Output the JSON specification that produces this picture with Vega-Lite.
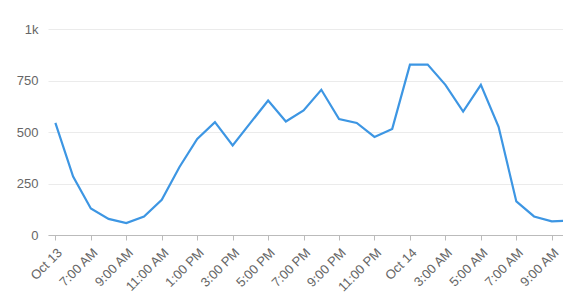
{
  "$schema": "https://vega.github.io/schema/vega-lite/v6.json",
  "width": 515,
  "height": 206,
  "autosize": "none",
  "padding": {"left": 48, "top": 29, "right": 0, "bottom": 66},
  "background": "white",
  "config": {
    "view": {"stroke": null},
    "font": "Liberation Sans",
    "axis": {"labelFont": "Liberation Sans", "labelFontSize": 13, "labelColor": "#666666"}
  },
  "data": {
    "values": [
      {"time": "2023-10-13T05:00:00Z", "value": 544},
      {"time": "2023-10-13T06:00:00Z", "value": 284},
      {"time": "2023-10-13T07:00:00Z", "value": 129},
      {"time": "2023-10-13T08:00:00Z", "value": 78},
      {"time": "2023-10-13T09:00:00Z", "value": 58},
      {"time": "2023-10-13T10:00:00Z", "value": 90},
      {"time": "2023-10-13T11:00:00Z", "value": 171},
      {"time": "2023-10-13T12:00:00Z", "value": 330},
      {"time": "2023-10-13T13:00:00Z", "value": 466},
      {"time": "2023-10-13T14:00:00Z", "value": 548},
      {"time": "2023-10-13T15:00:00Z", "value": 435},
      {"time": "2023-10-13T16:00:00Z", "value": 544},
      {"time": "2023-10-13T17:00:00Z", "value": 653},
      {"time": "2023-10-13T18:00:00Z", "value": 551},
      {"time": "2023-10-13T19:00:00Z", "value": 605},
      {"time": "2023-10-13T20:00:00Z", "value": 705},
      {"time": "2023-10-13T21:00:00Z", "value": 563},
      {"time": "2023-10-13T22:00:00Z", "value": 544},
      {"time": "2023-10-13T23:00:00Z", "value": 476},
      {"time": "2023-10-14T00:00:00Z", "value": 515},
      {"time": "2023-10-14T01:00:00Z", "value": 827},
      {"time": "2023-10-14T02:00:00Z", "value": 827},
      {"time": "2023-10-14T03:00:00Z", "value": 729},
      {"time": "2023-10-14T04:00:00Z", "value": 599},
      {"time": "2023-10-14T05:00:00Z", "value": 729},
      {"time": "2023-10-14T06:00:00Z", "value": 525},
      {"time": "2023-10-14T07:00:00Z", "value": 163},
      {"time": "2023-10-14T08:00:00Z", "value": 90},
      {"time": "2023-10-14T09:00:00Z", "value": 66},
      {"time": "2023-10-14T10:00:00Z", "value": 70}
    ]
  },
  "mark": {"type": "line", "color": "#3d96e3", "strokeWidth": 2.2, "clip": true},
  "encoding": {
    "x": {
      "field": "time",
      "type": "temporal",
      "title": null,
      "scale": {
        "type": "utc",
        "domain": [
          {"year": 2023, "month": 10, "date": 13, "hours": 4, "minutes": 35, "utc": true},
          {"year": 2023, "month": 10, "date": 14, "hours": 9, "minutes": 38, "utc": true}
        ]
      },
      "axis": {
        "values": [
          {"year": 2023, "month": 10, "date": 13, "hours": 5, "utc": true},
          {"year": 2023, "month": 10, "date": 13, "hours": 7, "utc": true},
          {"year": 2023, "month": 10, "date": 13, "hours": 9, "utc": true},
          {"year": 2023, "month": 10, "date": 13, "hours": 11, "utc": true},
          {"year": 2023, "month": 10, "date": 13, "hours": 13, "utc": true},
          {"year": 2023, "month": 10, "date": 13, "hours": 15, "utc": true},
          {"year": 2023, "month": 10, "date": 13, "hours": 17, "utc": true},
          {"year": 2023, "month": 10, "date": 13, "hours": 19, "utc": true},
          {"year": 2023, "month": 10, "date": 13, "hours": 21, "utc": true},
          {"year": 2023, "month": 10, "date": 13, "hours": 23, "utc": true},
          {"year": 2023, "month": 10, "date": 14, "hours": 1, "utc": true},
          {"year": 2023, "month": 10, "date": 14, "hours": 3, "utc": true},
          {"year": 2023, "month": 10, "date": 14, "hours": 5, "utc": true},
          {"year": 2023, "month": 10, "date": 14, "hours": 7, "utc": true},
          {"year": 2023, "month": 10, "date": 14, "hours": 9, "utc": true}
        ],
        "labelExpr": "(utchours(datum.value) == 5 && utcdate(datum.value) == 13) ? 'Oct 13' : (utchours(datum.value) == 1 ? 'Oct 14' : utcFormat(datum.value, '%-I:%M %p'))",
        "labelAngle": -45,
        "labelAlign": "right",
        "labelBaseline": "top",
        "labelPadding": 6,
        "grid": false,
        "domainColor": "#bbbbbb",
        "tickColor": "#bbbbbb",
        "tickSize": 5,
        "labelFlush": false,
        "labelOverlap": false
      }
    },
    "y": {
      "field": "value",
      "type": "quantitative",
      "title": null,
      "scale": {"domain": [0, 1000], "nice": false},
      "axis": {
        "values": [0, 250, 500, 750, 1000],
        "labelExpr": "datum.value == 1000 ? '1k' : datum.label",
        "domain": false,
        "ticks": false,
        "labelPadding": 10,
        "gridColor": "#ebebeb"
      }
    }
  }
}
